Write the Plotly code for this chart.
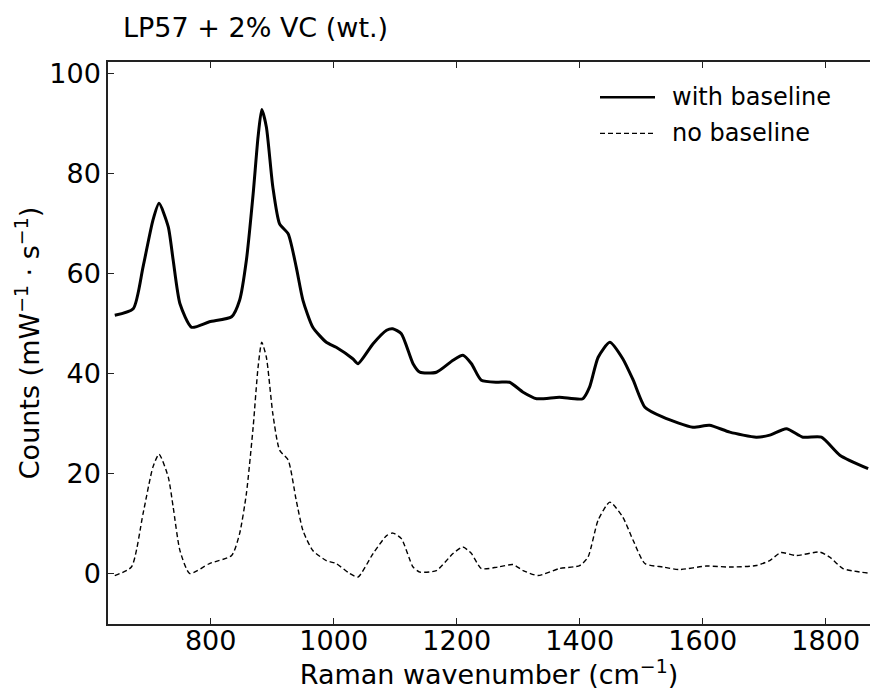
import plotly.graph_objects as go

# ---- data ----
wn_with = [644, 674, 690, 706, 716, 731, 739, 750, 769, 798, 834, 847, 858, 869, 877, 883,
           890.5, 901, 912, 926, 939, 950, 966, 988, 1004, 1031, 1039.5, 1064, 1086, 1096,
           1110, 1129, 1140, 1167, 1194, 1210, 1224, 1240, 1267, 1286, 1308, 1330, 1367,
           1405, 1416, 1430, 1449, 1470, 1487, 1506, 1535.5, 1584, 1611, 1644, 1687, 1709,
           1736, 1763, 1793, 1823, 1869]
counts_with = [51.6, 52.9, 61.3, 70.6, 74.0, 69.3, 62.6, 53.9, 49.2, 50.3, 51.3, 54.6, 62.6,
               75.9, 87.3, 92.8, 89.3, 77.3, 69.9, 67.9, 61.3, 54.6, 49.2, 46.2, 45.2, 42.9,
               41.9, 45.9, 48.6, 48.9, 47.9, 41.9, 40.2, 40.2, 42.6, 43.6, 41.9, 38.6, 38.2,
               38.2, 36.2, 34.9, 35.2, 34.9, 37.2, 43.2, 46.2, 42.9, 38.6, 33.2, 31.2, 29.2,
               29.6, 28.2, 27.2, 27.6, 28.9, 27.2, 27.2, 23.6, 20.9]

wn_no = [644, 671, 690, 706, 716, 731, 739, 750, 766, 798, 834, 847, 858, 869, 877, 883,
         890.5, 901, 912, 926, 939, 950, 966, 988, 1004, 1026, 1039.5, 1064, 1086, 1096,
         1110, 1129, 1140, 1167, 1194, 1210, 1224, 1240, 1267, 1291.5, 1308, 1332, 1367,
         1400, 1413.5, 1430, 1449, 1470, 1487, 1506, 1535.5, 1562, 1606, 1644, 1687, 1709,
         1727, 1752, 1790, 1806.5, 1828, 1869]
counts_no = [-0.5, 1.2, 11.9, 21.2, 23.8, 19.2, 13.2, 4.5, -0.1, 1.9, 3.5, 7.9, 15.9, 29.2,
             41.2, 46.2, 43.2, 31.9, 24.6, 22.6, 14.6, 8.5, 4.5, 2.5, 1.9, -0.1, -0.8, 3.9,
             7.5, 8.0, 6.9, 1.2, 0.2, 0.5, 3.9, 5.2, 3.9, 0.9, 1.2, 1.7, 0.5, -0.5, 0.9, 1.5,
             3.2, 10.6, 14.2, 11.2, 6.5, 1.9, 1.2, 0.7, 1.4, 1.2, 1.5, 2.5, 4.1, 3.5, 4.2,
             3.2, 0.9, 0.0]

series_names = ["with baseline", "no baseline"]
title_text = "LP57 + 2% VC (wt.)"
x_title = "Raman wavenumber (cm<sup>−1</sup>)"
y_title = "Counts (mW<sup>−1</sup> · s<sup>−1</sup>)"

FONT = "DejaVu Sans"
W, H = 870, 690
L, R, T, B = 108, 0, 62, 66

fig = go.Figure()
fig.add_trace(go.Scatter(x=wn_with, y=counts_with, mode="lines", name=series_names[0],
                         line=dict(color="black", width=3, shape="spline", smoothing=0.6),
                         showlegend=False))
fig.add_trace(go.Scatter(x=wn_no, y=counts_no, mode="lines", name=series_names[1],
                         line=dict(color="black", width=1.4, dash="5px,3px",
                                   shape="spline", smoothing=0.6),
                         showlegend=False))

# manual legend (matplotlib-like long line samples)
pw, ph = W - L - R, H - T - B
def px(xp):
    return (xp - L) / pw
def py(yp):
    return (H - B - yp) / ph

legend_rows = [(97.3, dict(color="black", width=2.5)),
               (133.3, dict(color="black", width=1.3, dash="5px,3px"))]
for (yy, ln), name in zip(legend_rows, series_names):
    fig.add_shape(type="line", xref="paper", yref="paper",
                  x0=px(600), x1=px(655), y0=py(yy), y1=py(yy), line=ln)
    fig.add_annotation(text=name, xref="paper", yref="paper", x=px(670), y=py(yy),
                       xanchor="left", yanchor="middle", showarrow=False,
                       font=dict(family=FONT, size=24, color="black"))

axis_common = dict(showline=True, linecolor="#222", linewidth=1.5, ticks="inside",
                   ticklen=6, tickwidth=1, tickcolor="#222", showgrid=False, zeroline=False,
                   tickfont=dict(family=FONT, size=27, color="black"))

fig.update_layout(
    width=W, height=H,
    margin=dict(l=L, r=R, t=T, b=B),
    plot_bgcolor="white", paper_bgcolor="white",
    title=dict(text=title_text, x=123 / W, xanchor="left", xref="container",
               y=1 - 28 / H, yanchor="middle", yref="container",
               font=dict(family=FONT, size=27, color="black")),
    xaxis=dict(range=[633, 1872], dtick=200, tick0=0, mirror="ticks",
               ticklabelstandoff=-8,
               title=dict(text=x_title, font=dict(family=FONT, size=27, color="black"),
                          standoff=14),
               **axis_common),
    yaxis=dict(range=[-10.2, 102.3], dtick=20, tick0=0,
               title=dict(text=y_title, font=dict(family=FONT, size=27, color="black"),
                          standoff=2),
               **axis_common),
)

fig.write_html("out.html", config={"displayModeBar": False},
               post_script="document.body.style.margin='0px';document.body.style.overflow='hidden';")
